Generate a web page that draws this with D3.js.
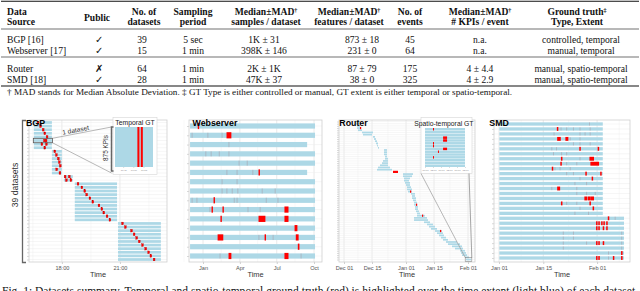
<!DOCTYPE html>
<html>
<head>
<meta charset="utf-8">
<script src="https://cdn.jsdelivr.net/npm/d3@7"></script>
<style>
  body { margin: 0; background: #fff; }
  svg { display: block; }
</style>
</head>
<body>
<svg id="fig" width="640" height="291"></svg>
<script>
// ---------------- table data ----------------
const headerTop = ["Data", "Public", "No. of", "Sampling", "Median±MAD†", "Median±MAD†", "No. of", "Median±MAD†", "Ground truth‡"];
const headerBottom = ["Source", "", "datasets", "period", "samples / dataset", "features / dataset", "events", "# KPIs / event", "Type, Extent"];
const sources = ["BGP [16]", "Webserver [17]", "Router", "SMD [18]"];
const publicMark = ["✓", "✓", "✗", "✓"];
const nDatasets = ["39", "15", "64", "28"];
const samplingPeriod = ["5 sec", "1 min", "1 min", "1 min"];
const samplesPerDataset = ["1K ± 31", "398K ± 146", "2K ± 1K", "47K ± 37"];
const featuresPerDataset = ["873 ± 18", "231 ± 0", "87 ± 79", "38 ± 0"];
const nEvents = ["45", "64", "175", "325"];
const kpisPerEvent = ["n.a.", "n.a.", "4 ± 4.4", "4 ± 2.9"];
const groundTruth = ["controlled, temporal", "manual, temporal", "manual, spatio-temporal", "manual, spatio-temporal"];
const footnote = "† MAD stands for Median Absolute Deviation. ‡ GT Type is either controlled or manual, GT extent is either temporal or spatio-temporal.";

// ---------------- BGP (time of day) ----------------
const bgpGroupRows = [8, 7, 2, 11, 11];
const bgpGroupStart = ["16:33", "17:29", "18:06", "18:40", "20:54"];
const bgpGroupEnd = ["17:29", "18:00", "18:34", "20:51", "23:07"];
const bgpEvents = [
  ["16:46"], ["16:54"], ["17:02"], ["17:07"], ["17:14"], ["17:06", "17:11"], ["16:58", "17:12"], ["17:07"],
  ["17:38"], ["17:43"], ["17:49"], ["17:52"], ["17:55"], ["17:44"], ["17:54"],
  ["18:10", "18:23"], ["18:14", "18:28"],
  ["18:50"], ["19:02"], ["19:11"], ["19:17"], ["19:27"], ["19:36"], ["19:55"], ["20:04"], ["20:10"], ["20:20"], ["20:29"],
  ["21:08"], ["21:17"], ["21:36"], ["21:44"], ["21:52"], ["22:00"], ["22:10"], ["22:20"], ["22:29"], ["22:36"], ["22:46"]
];
const bgpZoomRow = 5;
const bgpTicks = ["18:00", "21:00"];
const bgpMinor = ["16:30", "19:30", "22:30"];
const bgpInsetTicks = ["16:45", "17:00", "17:15"];

// ---------------- Webserver (days from 2020-01-01) ----------------
const webStart = [-32, -32, -32, -32, -32, -32, -32, -32, -32, -32, -32, -32, -32, -32, -32];
const webEnd = [276.5, 276.5, 257, 276.5, 276.5, 257, 276.5, 276.5, 276.5, 276.5, 276.5, 276.5, 276.5, 276.5, 276.5];
const webRed = [
  [0, -12, -11], [1, 59, 69], [5, 138, 139], [8, 27, 28], [9, 22, 23], [9, 49, 50], [9, 202, 210],
  [10, 44, 45], [10, 138, 153], [10, 202, 210], [11, 227, 232], [12, 37, 49], [12, 153, 154],
  [12, 230, 235], [13, 235, 237], [14, 64, 69], [14, 202, 210]
];
const webGray = [
  [1, -27], [1, 12], [1, 47], [2, 64], [3, 7], [3, 20], [3, 40], [3, 64], [4, 89], [4, 109],
  [5, 59], [5, 84], [5, 123], [6, 47], [6, 84], [7, 47], [7, 59], [7, 72], [7, 86], [7, 146], [7, 178],
  [8, -27], [8, -15], [8, 77], [8, 84], [8, 156], [8, 185], [9, 17], [9, 111], [9, 141],
  [12, 138], [12, 173], [14, 42], [14, 242]
];
const webTicks = ["2020-01-01", "2020-04-01", "2020-07-01", "2020-10-01"];
const webMinor = ["2019-11-15", "2020-02-15", "2020-05-15", "2020-08-15"];

// ---------------- Router (days from 2019-12-01) ----------------
const routerStart = [5.5, 6, 6.5, 6.5, 7, 9, 9.5, 14.5, 15, 15.5, 16, 16.5, 17, 20, 20, 20, 20.5, 20.5, 19.5, 19, 18, 17, 16.5, 24.5,
  29.5, 29.5, 30, 30, 30.5, 31, 31.5, 31.5, 32, 33.5, 34, 34, 34.5, 35, 35, 35.5, 35.5, 36, 36.5, 36.5, 35, 35, 40, 41.5,
  42.5, 43.5, 45.5, 46.5, 47.5, 48.5, 49.5, 51, 52, 54, 55.5, 58, 58.5, 59, 60.5, 61];
const routerEnd = [7, 7.5, 8, 8.5, 9, 14.5, 14, 15.5, 16, 16.5, 17, 17, 17.5, 21.5, 21.5, 21.5, 21.5, 22, 22, 22, 22, 23, 24, 27,
  34.5, 34, 33, 32.5, 33, 33, 33.5, 34, 34, 35.5, 35.5, 36, 36, 36.5, 36.5, 37, 37, 37.5, 38, 40.5, 41.5, 42, 43, 44.5,
  45.5, 46.5, 49, 49.5, 50, 51, 52, 56.5, 58, 59, 59.5, 60.5, 61, 61.5, 62.5, 63.5];
const routerRed = [[3, 8, 8.6], [23, 24.5, 27], [32, 33, 33.6], [38, 36, 36.6], [43, 39, 39.6], [50, 48, 48.6]];
const routerInsetKpis = 14;
const routerInsetRed = [[0, 61.5, 61.56], [3, 62.13, 62.38], [4, 62.13, 62.38], [5, 61.5, 61.56], [6, 61.5, 61.56],
  [7, 62.13, 62.38], [8, 61.81, 61.87], [10, 61.5, 61.56]];
const routerTicks = ["2019-12-01", "2019-12-15", "2020-01-01", "2020-01-15", "2020-02-01"];
const routerMinor = ["2019-12-08", "2019-12-23", "2020-01-08", "2020-01-23"];

// ---------------- SMD (days from 2020-01-01) ----------------
const smdStart = [0.1, 0.1, 0.1, 0.1, 0.1, 0.1, 0.1, 0.1, 0.1, 0.1, 0.1, 0.1, 0.1, 0.1,
  0.1, 0.1, 0.1, 0.1, 0.1, 0.1, 0.1, 0.1, 0.1, 0.1, 0.1, 0.1, 0.1, 0.1];
const smdEnd = [32.8, 32.8, 32.8, 32.8, 32.8, 32.8, 32.8, 32.8, 32.8, 32.8, 32.8, 32.8, 32.8, 32.8,
  32.8, 32.8, 32.8, 32.8, 32.8, 39.5, 39.5, 39.5, 39.5, 39.5, 39.5, 39.5, 39.5, 39.5];
const smdRed = [
  [1, 18.5, 18.5], [3, 18.6, 19.3], [3, 21.2, 21.7], [5, 25.6, 25.6], [5, 31.4, 31.4], [7, 19.8, 19.8],
  [7, 28.8, 29.8], [8, 19.6, 19.6], [8, 29.1, 31.4], [9, 16.9, 16.9], [10, 27.5, 27.5], [10, 32.2, 32.2],
  [11, 29.5, 29.5], [13, 18.6, 19.1], [15, 27.2, 27.7], [15, 28.3, 28.8], [15, 29.3, 29.8], [16, 19.8, 19.8],
  [16, 28.8, 28.8], [17, 29.8, 29.8], [19, 34.6, 34.6], [20, 30.9, 30.9], [20, 31.6, 31.6], [20, 32.5, 32.5],
  [20, 33.2, 33.2], [20, 34.1, 34.1], [21, 30.9, 30.9], [21, 31.6, 31.6], [21, 33, 33], [21, 34.1, 34.1],
  [24, 30.9, 30.9], [24, 31.6, 31.6], [24, 33, 33], [26, 38.8, 38.8], [27, 30.9, 30.9], [27, 31.6, 31.6],
  [27, 36.2, 36.2], [27, 38.8, 38.8]
];
const smdGray = [
  [0, 28.6], [1, 19.6], [1, 21.4], [1, 23.5], [1, 25.6], [1, 28.8], [2, 17.4], [2, 25.6], [2, 27.2], [2, 28.8],
  [3, 22.5], [3, 25.6], [4, 23.5], [4, 25.6], [4, 28.8], [5, 16.7], [5, 18.2], [6, 17.2], [6, 19.8], [6, 21.4],
  [7, 25.6], [8, 21.4], [8, 24.6], [9, 17.7], [9, 19.3], [9, 22.5], [10, 21.4], [10, 23.5], [11, 25.6],
  [12, 24], [12, 27.7], [13, 16.7], [13, 24.6], [14, 24.6], [14, 27.7], [14, 30.4], [16, 21.4], [16, 24.6],
  [17, 25.6], [18, 24], [18, 28.3], [19, 36.7], [22, 20.3], [22, 23.5], [22, 38.8], [23, 20.3], [23, 23.5],
  [23, 38.8], [24, 20.3], [24, 27.7], [24, 38.8], [25, 20.3], [25, 38.8], [26, 34.6], [27, 34.6]
];
const smdTicks = ["2020-01-01", "2020-01-15", "2020-02-01"];
const smdMinor = ["2020-01-08", "2020-01-23", "2020-02-08"];

const caption = "Fig. 1: Datasets summary. Temporal and spatio-temporal ground truth (red) is highlighted over the time extent (light blue) of each dataset.";

// ---------------- setup ----------------
const SERIF = "'Liberation Serif', 'Times New Roman', Times, serif";
const SANS = "'Liberation Sans', Arial, Helvetica, sans-serif";
const BLUE = "#add8e6";
const RED = "#ff0000";
const GRAYMARK = "rgba(165,140,150,0.5)";

const svg = d3.select("#fig");
const parseHM = d3.timeParse("%H:%M");
const parseDay = d3.timeParse("%Y-%m-%d");
const addDays = (base, d) => new Date(+base + d * 864e5);
const addMin = (t, m) => new Date(+t + m * 6e4);

// ---------------- table ----------------
function drawTable() {
  const g = svg.append("g");
  const headerX = [7, 97, 144, 193, 266, 349, 410, 480, 577];
  const cellX = [7, 99, 142, 193, 264, 362, 410, 480, 581];
  const rowY = [42.5, 53.5, 71.5, 82.5];

  // rules
  [[1.2, 1.1], [29, 0.6], [57, 0.6], [86, 1.1]].forEach(([y, w]) => {
    g.append("line").attr("x1", 1).attr("x2", 639).attr("y1", y).attr("y2", y)
      .attr("stroke", "#111").attr("stroke-width", w);
  });

  function addText(str, x, y, anchor, bold) {
    const t = g.append("text").attr("x", x).attr("y", y)
      .attr("text-anchor", anchor)
      .style("font-family", SERIF).style("font-size", "9.6px")
      .style("font-weight", bold ? "bold" : "normal").attr("fill", "#111");
    const last = str.slice(-1);
    if (last === "†" || last === "‡") {
      t.append("tspan").text(str.slice(0, -1));
      t.append("tspan").style("font-size", "6px").attr("dy", -3.5).text(last);
    } else {
      t.text(str);
    }
  }

  headerTop.forEach((h, i) => {
    const anchor = i === 0 ? "start" : "middle";
    if (headerBottom[i] === "") {
      addText(h, headerX[i], 20.5, anchor, true);
    } else {
      addText(h, headerX[i], 15, anchor, true);
      addText(headerBottom[i], headerX[i], 25, anchor, true);
    }
  });

  const columns = [sources, publicMark, nDatasets, samplingPeriod, samplesPerDataset,
    featuresPerDataset, nEvents, kpisPerEvent, groundTruth];
  columns.forEach((col, c) => {
    col.forEach((v, r) => addText(v, cellX[c], rowY[r], c === 0 ? "start" : "middle", false));
  });

  g.append("text").attr("x", 7).attr("y", 94.5)
    .style("font-family", SERIF).style("font-size", "9.2px").attr("fill", "#111")
    .text(footnote);
}

// ---------------- panel scaffold ----------------
function drawPanel(o) {
  const g = svg.append("g");
  const x = d3.scaleTime().domain(o.domain).range([o.left, o.right]);
  const y = d3.scaleLinear().domain([0, o.rows - 1]).range([o.rowTop, o.rowBottom]);

  g.append("rect")
    .attr("x", o.left).attr("y", o.top)
    .attr("width", o.right - o.left).attr("height", o.bottom - o.top)
    .attr("fill", "#fff");

  g.append("g").selectAll("line").data(o.minor).join("line")
    .attr("x1", d => x(d)).attr("x2", d => x(d))
    .attr("y1", o.top).attr("y2", o.bottom)
    .attr("stroke", "#f3f3f3").attr("stroke-width", 0.6);

  g.append("g").selectAll("line").data(o.ticks).join("line")
    .attr("x1", d => x(d)).attr("x2", d => x(d))
    .attr("y1", o.top).attr("y2", o.bottom)
    .attr("stroke", "#e4e4e4").attr("stroke-width", 0.8);

  g.append("g").selectAll("line").data(d3.range(o.rows)).join("line")
    .attr("x1", o.left).attr("x2", o.right)
    .attr("y1", d => y(d)).attr("y2", d => y(d))
    .attr("stroke", "#ececec").attr("stroke-width", 0.5);

  const xAxis = g.append("g").attr("transform", `translate(0,${o.bottom})`)
    .call(d3.axisBottom(x).tickValues(o.ticks).tickFormat(d3.timeFormat(o.fmt)).tickSize(2).tickPadding(2.5));
  xAxis.select(".domain").remove();
  xAxis.selectAll("line").attr("stroke", "#b0b0b0").attr("stroke-width", 0.6);
  xAxis.selectAll("text").style("font-family", SANS).attr("font-size", 5.6).attr("fill", "#555");

  const yAxis = g.append("g").attr("transform", `translate(${o.left},0)`)
    .call(d3.axisLeft(y).tickValues(d3.range(o.rows)).tickSize(2).tickFormat(""));
  yAxis.select(".domain").remove();
  yAxis.selectAll("line").attr("stroke", "#b0b0b0").attr("stroke-width", 0.5);

  g.append("text")
    .attr("x", (o.left + o.right) / 2).attr("y", o.bottom + 15)
    .attr("text-anchor", "middle").style("font-family", SANS)
    .attr("font-size", 7.4).attr("fill", "#333").text("Time");

  const layer = svg.append("g");
  function done() {
    svg.append("rect")
      .attr("x", o.left).attr("y", o.top)
      .attr("width", o.right - o.left).attr("height", o.bottom - o.top)
      .attr("fill", "none").attr("stroke", "#cfcfcf").attr("stroke-width", 0.8);
    svg.append("text")
      .attr("x", o.titleX).attr("y", 126)
      .style("font-family", SANS).attr("font-weight", "bold")
      .attr("font-size", 8.8).attr("fill", "#000").text(o.title);
  }
  return { g: layer, x, y, done };
}

// ---------------- BGP ----------------
function drawBGP() {
  const p = drawPanel({
    left: 29, right: 167, top: 120, bottom: 262,
    domain: [parseHM("16:18"), parseHM("23:26")],
    rows: 39, rowTop: 122.5, rowBottom: 259.5,
    ticks: bgpTicks.map(parseHM), minor: bgpMinor.map(parseHM),
    fmt: "%H:%M", title: "BGP", titleX: 26
  });
  const { g, x, y } = p;

  // expand groups into rows
  const rowStart = [], rowEnd = [];
  bgpGroupRows.forEach((n, k) => {
    for (let i = 0; i < n; i++) {
      rowStart.push(parseHM(bgpGroupStart[k]));
      rowEnd.push(parseHM(bgpGroupEnd[k]));
    }
  });
  const barH = 2.7;

  g.selectAll("rect.bar").data(d3.range(39)).join("rect")
    .attr("x", i => x(rowStart[i])).attr("width", i => x(rowEnd[i]) - x(rowStart[i]))
    .attr("y", i => y(i) - barH / 2).attr("height", barH)
    .attr("fill", BLUE);

  const ev = bgpEvents.flatMap((list, r) => list.map(t => ({ r, t: parseHM(t) })));
  g.selectAll("rect.ev").data(ev).join("rect")
    .attr("x", d => x(d.t) - 0.9).attr("width", 1.8)
    .attr("y", d => y(d.r) - barH / 2).attr("height", barH)
    .attr("fill", RED).attr("stroke", "#c00000").attr("stroke-width", 0.3);

  // "39 datasets" bracket
  svg.append("path").attr("d", "M26,120.5 H22.5 V262.5 H26")
    .attr("fill", "none").attr("stroke", "#666").attr("stroke-width", 1.3);
  svg.append("text")
    .attr("transform", "translate(18,185) rotate(-90)")
    .attr("text-anchor", "middle").style("font-family", SANS)
    .attr("font-size", 8.6).attr("fill", "#333").text("39 datasets");

  p.done();

  // zoom box on one dataset
  const zr = bgpZoomRow;
  const bx0 = x(rowStart[zr]) - 0.5, bx1 = x(rowEnd[zr]) + 0.5;
  const by0 = y(zr) - 2.2, by1 = y(zr) + 2.2;

  // inset
  const inset = { left: 115, right: 153, top: 127, bottom: 167 };
  svg.append("rect").attr("x", 113).attr("y", 117.5).attr("width", 44).attr("height", 57)
    .attr("fill", "#fff").attr("stroke", "#d5d5d5").attr("stroke-width", 0.6);

  svg.append("line").attr("x1", bx1).attr("y1", by0).attr("x2", 111.5).attr("y2", inset.top)
    .attr("stroke", "#9a9a9a").attr("stroke-width", 0.7);
  svg.append("line").attr("x1", bx1).attr("y1", by1).attr("x2", 111.5).attr("y2", 173)
    .attr("stroke", "#9a9a9a").attr("stroke-width", 0.7);
  svg.append("rect").attr("x", bx0).attr("y", by0).attr("width", bx1 - bx0).attr("height", by1 - by0)
    .attr("fill", "none").attr("stroke", "#555").attr("stroke-width", 0.8);

  const ang = Math.atan2(inset.top - by0, 111.5 - bx1) * 180 / Math.PI;
  svg.append("text")
    .attr("transform", `translate(76,132.3) rotate(${ang})`)
    .attr("text-anchor", "middle").style("font-family", SANS)
    .attr("font-size", 6.6).attr("fill", "#333").text("1 dataset");

  const ix = d3.scaleTime().domain([rowStart[zr], rowEnd[zr]]).range([inset.left, inset.right]);
  svg.append("rect").attr("x", inset.left).attr("y", inset.top)
    .attr("width", inset.right - inset.left).attr("height", inset.bottom - inset.top)
    .attr("fill", BLUE);
  svg.append("g").selectAll("rect").data(bgpEvents[zr].map(parseHM)).join("rect")
    .attr("x", d => ix(d)).attr("width", d => ix(addMin(d, 3)) - ix(d))
    .attr("y", inset.top).attr("height", inset.bottom - inset.top)
    .attr("fill", RED);
  const iax = svg.append("g").attr("transform", `translate(0,${inset.bottom})`)
    .call(d3.axisBottom(ix).tickValues(bgpInsetTicks.map(parseHM)).tickFormat(d3.timeFormat("%H:%M")).tickSize(1).tickPadding(1));
  iax.select(".domain").remove();
  iax.selectAll("line").attr("stroke", "#aaa").attr("stroke-width", 0.4);
  iax.selectAll("text").attr("font-size", 2.4).attr("fill", "#888").style("font-family", SANS);

  svg.append("path").attr("d", `M113.5,${inset.top} H111.5 V171 H113.5`)
    .attr("fill", "none").attr("stroke", "#666").attr("stroke-width", 1.5);
  svg.append("text")
    .attr("transform", "translate(107.5,148) rotate(-90)")
    .attr("text-anchor", "middle").style("font-family", SANS)
    .attr("font-size", 6.4).attr("fill", "#333").text("875 KPIs");
  svg.append("text").attr("x", 135).attr("y", 124.5).attr("text-anchor", "middle")
    .style("font-family", SANS).attr("font-size", 6.8).attr("fill", "#222").text("Temporal GT");
}

// ---------------- Webserver ----------------
function drawWeb() {
  const base = parseDay("2020-01-01");
  const p = drawPanel({
    left: 189, right: 322, top: 120, bottom: 262,
    domain: [addDays(base, -34.6), addDays(base, 293.7)],
    rows: 15, rowTop: 126, rowBottom: 256,
    ticks: webTicks.map(parseDay), minor: webMinor.map(parseDay),
    fmt: "%b", title: "Webserver", titleX: 192.5
  });
  const { g, x, y } = p;
  const barH = 5.2;

  g.selectAll("rect.bar").data(d3.range(15)).join("rect")
    .attr("x", i => x(addDays(base, webStart[i])))
    .attr("width", i => x(addDays(base, webEnd[i])) - x(addDays(base, webStart[i])))
    .attr("y", i => y(i) - barH / 2).attr("height", barH)
    .attr("fill", BLUE);

  g.selectAll("rect.gray").data(webGray).join("rect")
    .attr("x", d => x(addDays(base, d[1])) - 0.4).attr("width", 0.8)
    .attr("y", d => y(d[0]) - barH / 2).attr("height", barH)
    .attr("fill", GRAYMARK);

  g.selectAll("rect.red").data(webRed).join("rect")
    .attr("x", d => x(addDays(base, d[1])) - 0.4)
    .attr("width", d => Math.max(1.4, x(addDays(base, d[2])) - x(addDays(base, d[1])) + 0.8))
    .attr("y", d => y(d[0]) - barH / 2 - 0.5).attr("height", barH + 1)
    .attr("fill", RED);

  p.done();
}

// ---------------- Router ----------------
function drawRouter() {
  const base = parseDay("2019-12-01");
  const p = drawPanel({
    left: 339, right: 475, top: 120, bottom: 262,
    domain: [addDays(base, -2.5), addDays(base, 65.5)],
    rows: 64, rowTop: 121.5, rowBottom: 259.5,
    ticks: routerTicks.map(parseDay), minor: routerMinor.map(parseDay),
    fmt: "%b %d", title: "Router", titleX: 339.3
  });
  const { g, x, y } = p;
  const barH = 1.7;

  g.selectAll("rect.bar").data(d3.range(64)).join("rect")
    .attr("x", i => x(addDays(base, routerStart[i])))
    .attr("width", i => x(addDays(base, routerEnd[i])) - x(addDays(base, routerStart[i])))
    .attr("y", i => y(i) - barH / 2).attr("height", barH)
    .attr("fill", BLUE);

  g.selectAll("rect.red").data(routerRed).join("rect")
    .attr("x", d => x(addDays(base, d[1])))
    .attr("width", d => x(addDays(base, d[2])) - x(addDays(base, d[1])))
    .attr("y", d => y(d[0]) - 1.1).attr("height", 2.2)
    .attr("fill", RED);

  p.done();

  // zoom box on last dataset + inset
  const last = 63;
  const bx0 = x(addDays(base, routerStart[last])) - 0.8, bx1 = x(addDays(base, routerEnd[last])) + 0.8;
  const by0 = y(last) - 2, by1 = y(last) + 2;
  const inset = { left: 425, right: 465, top: 128, bottom: 167 };

  svg.append("rect").attr("x", 421).attr("y", 117.5).attr("width", 51).attr("height", 56)
    .attr("fill", "#fff").attr("stroke", "#d5d5d5").attr("stroke-width", 0.6);
  svg.append("line").attr("x1", bx0).attr("y1", by0).attr("x2", 421).attr("y2", 173.5)
    .attr("stroke", "#9a9a9a").attr("stroke-width", 0.7);
  svg.append("line").attr("x1", bx1).attr("y1", by0).attr("x2", 469).attr("y2", 173.5)
    .attr("stroke", "#9a9a9a").attr("stroke-width", 0.9);
  svg.append("rect").attr("x", bx0).attr("y", by0).attr("width", bx1 - bx0).attr("height", by1 - by0)
    .attr("fill", "none").attr("stroke", "#888").attr("stroke-width", 0.6);

  const ix = d3.scaleTime()
    .domain([addDays(base, routerStart[last]), addDays(base, routerEnd[last])])
    .range([inset.left, inset.right]);
  const iy = d3.scaleBand().domain(d3.range(routerInsetKpis)).range([inset.top, inset.bottom]).paddingInner(0.12);

  svg.append("g").selectAll("rect").data(d3.range(routerInsetKpis)).join("rect")
    .attr("x", inset.left).attr("width", inset.right - inset.left)
    .attr("y", k => iy(k)).attr("height", iy.bandwidth())
    .attr("fill", BLUE);
  svg.append("g").selectAll("rect").data(routerInsetRed).join("rect")
    .attr("x", d => ix(addDays(base, d[1])))
    .attr("width", d => Math.max(1, ix(addDays(base, d[2])) - ix(addDays(base, d[1]))))
    .attr("y", d => iy(d[0])).attr("height", iy.bandwidth())
    .attr("fill", RED);
  const iax = svg.append("g").attr("transform", `translate(0,${inset.bottom})`)
    .call(d3.axisBottom(ix).ticks(4).tickFormat(d3.timeFormat("%H:%M")).tickSize(1).tickPadding(1));
  iax.select(".domain").remove();
  iax.selectAll("line").attr("stroke", "#aaa").attr("stroke-width", 0.4);
  iax.selectAll("text").attr("font-size", 2.4).attr("fill", "#888").style("font-family", SANS);

  svg.append("text").attr("x", 473.5).attr("y", 126).attr("text-anchor", "end")
    .style("font-family", SANS).attr("font-size", 6.8).attr("fill", "#222").text("Spatio-temporal GT");
}

// ---------------- SMD ----------------
function drawSMD() {
  const base = parseDay("2020-01-01");
  const p = drawPanel({
    left: 494, right: 630, top: 120, bottom: 262,
    domain: [addDays(base, -1.58), addDays(base, 41.4)],
    rows: 28, rowTop: 124, rowBottom: 258,
    ticks: smdTicks.map(parseDay), minor: smdMinor.map(parseDay),
    fmt: "%b %d", title: "SMD", titleX: 489.3
  });
  const { g, x, y } = p;
  const barH = 3.3;

  g.selectAll("rect.bar").data(d3.range(28)).join("rect")
    .attr("x", i => x(addDays(base, smdStart[i])))
    .attr("width", i => x(addDays(base, smdEnd[i])) - x(addDays(base, smdStart[i])))
    .attr("y", i => y(i) - barH / 2).attr("height", barH)
    .attr("fill", BLUE);

  g.selectAll("rect.gray").data(smdGray).join("rect")
    .attr("x", d => x(addDays(base, d[1])) - 0.4).attr("width", 0.8)
    .attr("y", d => y(d[0]) - barH / 2).attr("height", barH)
    .attr("fill", GRAYMARK);

  g.selectAll("rect.red").data(smdRed).join("rect")
    .attr("x", d => x(addDays(base, d[1])) - 0.7)
    .attr("width", d => Math.max(1.5, x(addDays(base, d[2])) - x(addDays(base, d[1])) + 1.4))
    .attr("y", d => y(d[0]) - barH / 2 - 0.3).attr("height", barH + 0.6)
    .attr("fill", RED);

  p.done();
}

drawTable();
drawBGP();
drawWeb();
drawRouter();
drawSMD();

// caption: only its top shows at the bottom edge, as in the reference
svg.append("text").attr("x", 2).attr("y", 295)
  .style("font-family", SERIF).style("font-size", "11.5px").attr("fill", "#111")
  .attr("textLength", 636).attr("lengthAdjust", "spacing")
  .text(caption);
</script>
</body>
</html>
